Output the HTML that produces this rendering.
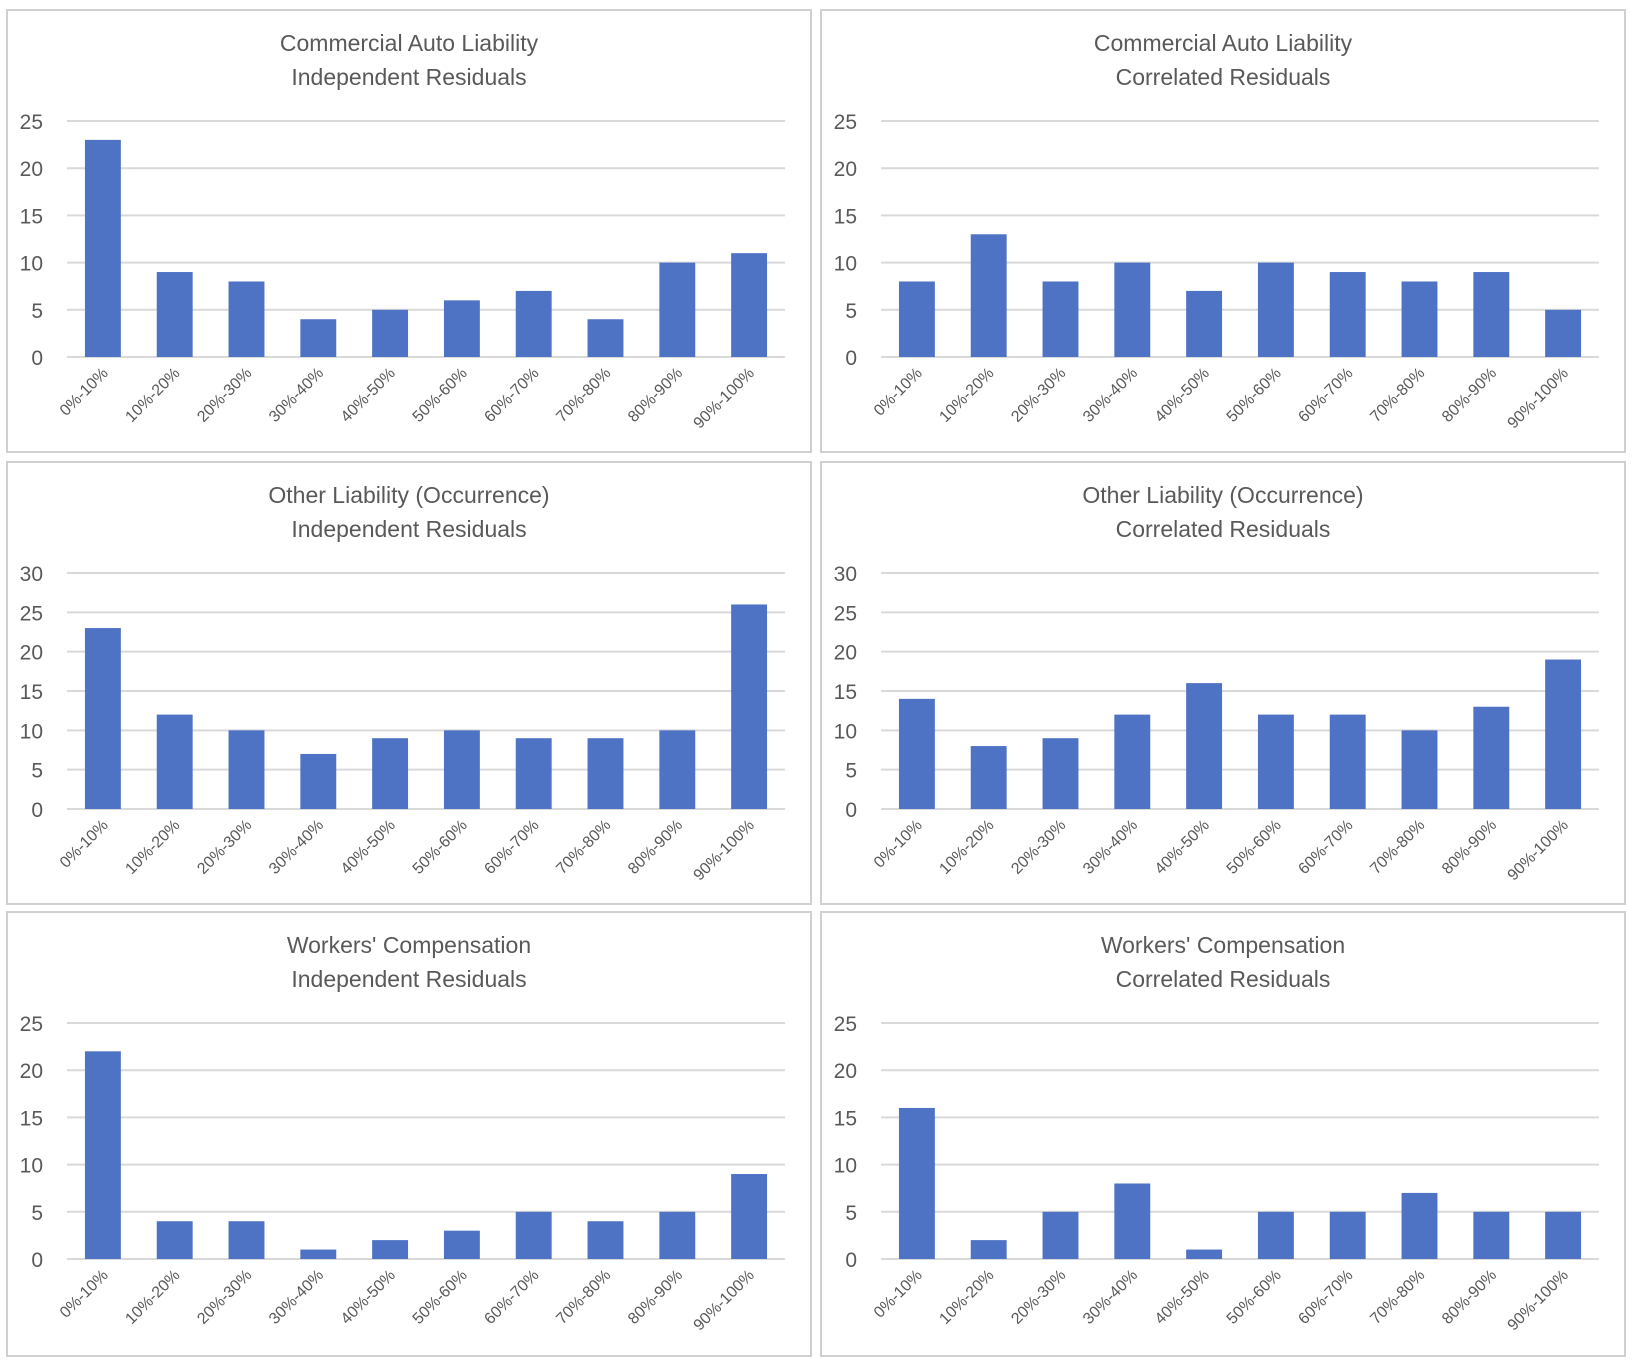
<!DOCTYPE html>
<html><head><meta charset="utf-8"><style>
body{margin:0;background:#fff;width:1632px;height:1364px;overflow:hidden;font-family:"Liberation Sans",sans-serif}
</style></head><body>
<svg id="s" width="1632" height="1364"></svg>
<script>
const categories=["0%-10%","10%-20%","20%-30%","30%-40%","40%-50%","50%-60%","60%-70%","70%-80%","80%-90%","90%-100%"];
const caInd=[23,9,8,4,5,6,7,4,10,11];
const caCor=[8,13,8,10,7,10,9,8,9,5];
const olInd=[23,12,10,7,9,10,9,9,10,26];
const olCor=[14,8,9,12,16,12,12,10,13,19];
const wcInd=[22,4,4,1,2,3,5,4,5,9];
const wcCor=[16,2,5,8,1,5,5,7,5,5];
const ticks25=[0,5,10,15,20,25];
const ticks30=[0,5,10,15,20,25,30];
const charts=[
 {t1:"Commercial Auto Liability",t2:"Independent Residuals",d:caInd,tk:ticks25,x:7,y:10,h:442,n:"ca-independent"},
 {t1:"Commercial Auto Liability",t2:"Correlated Residuals",d:caCor,tk:ticks25,x:821,y:10,h:442,n:"ca-correlated"},
 {t1:"Other Liability (Occurrence)",t2:"Independent Residuals",d:olInd,tk:ticks30,x:7,y:462,h:442,n:"ol-independent"},
 {t1:"Other Liability (Occurrence)",t2:"Correlated Residuals",d:olCor,tk:ticks30,x:821,y:462,h:442,n:"ol-correlated"},
 {t1:"Workers' Compensation",t2:"Independent Residuals",d:wcInd,tk:ticks25,x:7,y:912,h:444,n:"wc-independent"},
 {t1:"Workers' Compensation",t2:"Correlated Residuals",d:wcCor,tk:ticks25,x:821,y:912,h:444,n:"wc-correlated"}
];
const NS="http://www.w3.org/2000/svg",svg=document.getElementById('s');
function mk(tag,at,par){const e=document.createElementNS(NS,tag);for(const k in at)e.setAttribute(k,at[k]);(par||svg).appendChild(e);return e;}
charts.forEach(c=>{
 const g=mk('g',{});
 
 
 const fr=mk('rect',{x:c.x,y:c.y,width:804,height:c.h,fill:'#fff',stroke:'#d0d0d0','stroke-width':2},g);
 
 
 const cx=c.x+402;
 const t=mk('text',{x:cx,y:c.y+41,'text-anchor':'middle','font-size':23,fill:'#595959'},g);t.textContent=c.t1;
 
 
 const t2=mk('text',{x:cx,y:c.y+75,'text-anchor':'middle','font-size':23,fill:'#595959'},g);t2.textContent=c.t2;
 
 
 const x0=c.x+60,x1=c.x+778,yTop=c.y+111,yBot=c.y+347;
 const max=c.tk[c.tk.length-1];
 const ys=v=>yBot-(v/max)*(yBot-yTop);
 const bw=(x1-x0)/categories.length;
 c.tk.forEach(v=>{
  const l=mk('line',{x1:x0,x2:x1,y1:ys(v),y2:ys(v),stroke:'#d9d9d9','stroke-width':2},g);
  
  
  const tl=mk('text',{x:c.x+36,y:ys(v)+8,'text-anchor':'end','font-size':21,fill:'#595959'},g);tl.textContent=v;
  
  
 });
 c.d.forEach((v,i)=>{
  const bx=x0+bw*i+bw/4;
  const r=mk('rect',{x:bx,y:ys(v),width:bw/2,height:yBot-ys(v),fill:'#4e72c4'},g);
  
  
  const mx=x0+bw*i+bw/2+6,my=yBot+17;
  const xl=mk('text',{x:mx,y:my,'text-anchor':'end','font-size':16,fill:'#595959',transform:`rotate(-45 ${mx} ${my})`},g);
  xl.textContent=categories[i];
  
  
 });
});
</script>
</body></html>
